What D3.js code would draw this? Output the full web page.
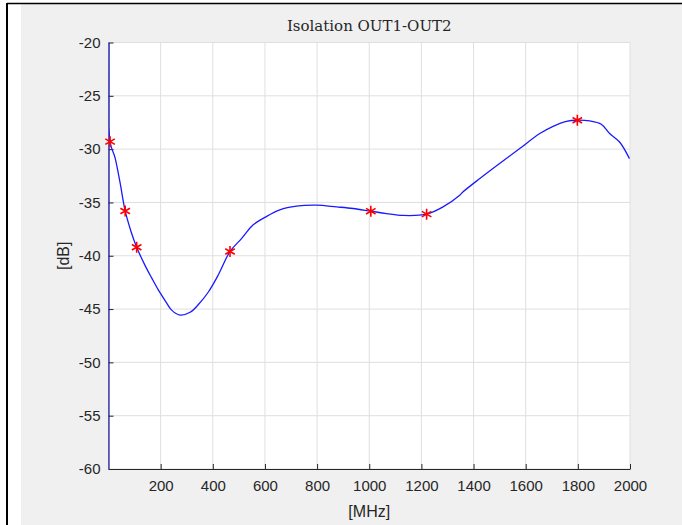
<!DOCTYPE html>
<html>
<head>
<meta charset="utf-8">
<script src="https://cdn.jsdelivr.net/npm/d3@7"></script>
<style>
  body { margin: 0; background: #fff; }
  text { font-family: "Liberation Sans", Arial, sans-serif; fill: #262626; }
</style>
</head>
<body>
<div id="chart"></div>
<script>
// frequency [MHz] and isolation [dB]
var freq = [0, 2, 6, 25, 44, 64, 86, 108, 140, 166, 191, 217, 242, 274, 313, 344, 383, 421, 466, 510,
    555, 600, 657, 721, 798, 875, 938, 1006, 1066, 1130, 1220, 1283, 1347, 1360, 1424, 1500,
    1577, 1654, 1705, 1756, 1798, 1845, 1890, 1922, 1960, 1998];
var isol = [-95, 0, -29.3, -30.8, -33.1, -35.8, -37.7, -39.2, -40.9, -42.1, -43.2, -44.2, -45.1,
    -45.56, -45.3, -44.6, -43.4, -41.8, -39.6, -38.4, -37.1, -36.4, -35.7, -35.35, -35.26,
    -35.42, -35.57, -35.82, -36.04, -36.22, -36.1, -35.42, -34.32, -34.0, -32.76, -31.35,
    -29.95, -28.54, -27.86, -27.39, -27.29, -27.36, -27.67, -28.54, -29.33, -30.89];

// red markers
var markFreq = [6, 64, 108, 466, 1006, 1220, 1798];
var markIsol = [-29.3, -35.8, -39.2, -39.6, -35.82, -36.1, -27.29];

var xTicks = [200, 400, 600, 800, 1000, 1200, 1400, 1600, 1800, 2000];
var yTicks = [-60, -55, -50, -45, -40, -35, -30, -25, -20];

var W = 682, H = 525;
var pl = 108.5, pr = 630, pt = 42.5, pb = 469;

var svg = d3.select("#chart").append("svg")
    .attr("width", W)
    .attr("height", H);

// figure frame
svg.append("rect").attr("x", 21).attr("y", 4).attr("width", W - 21).attr("height", H - 4)
    .attr("fill", "#f0f0f0");
svg.append("line").attr("x1", 7).attr("x2", W).attr("y1", 3.5).attr("y2", 3.5)
    .attr("stroke", "#000").attr("stroke-width", 1.5);
svg.append("line").attr("x1", 7).attr("x2", 7).attr("y1", 3).attr("y2", H)
    .attr("stroke", "#000").attr("stroke-width", 2);

var x = d3.scaleLinear().domain([0, 2000]).range([pl, pr]);
var y = d3.scaleLinear().domain([-60, -20]).range([pb, pt]);

svg.append("rect")
    .attr("x", pl).attr("y", pt)
    .attr("width", pr - pl).attr("height", pb - pt)
    .attr("fill", "#fff");

// grid
svg.append("g").selectAll("line").data(xTicks).enter().append("line")
    .attr("x1", function(d) { return x(d); }).attr("x2", function(d) { return x(d); })
    .attr("y1", pt).attr("y2", pb)
    .attr("stroke", "#dfdfdf");
svg.append("g").selectAll("line").data(yTicks).enter().append("line")
    .attr("x1", pl).attr("x2", pr)
    .attr("y1", function(d) { return y(d); }).attr("y2", function(d) { return y(d); })
    .attr("stroke", "#dfdfdf");

// axes, ticks pointing inward like matlab, plain hyphen for minus
var fmt = function(d) { return String(d); };
var xAxis = svg.append("g")
    .attr("transform", "translate(0," + pb + ")")
    .call(d3.axisBottom(x).tickValues(xTicks).tickFormat(fmt)
        .tickSizeInner(-5).tickSizeOuter(0).tickPadding(11));
var yAxis = svg.append("g")
    .attr("transform", "translate(" + pl + ",0)")
    .call(d3.axisLeft(y).tickValues(yTicks).tickFormat(fmt)
        .tickSizeInner(-5).tickSizeOuter(0).tickPadding(8));

[xAxis, yAxis].forEach(function(a) {
    a.select(".domain").attr("stroke", "#262626");
    a.selectAll(".tick line").attr("stroke", "#262626");
    a.selectAll(".tick text")
        .style("font-family", "Liberation Sans, Arial, sans-serif")
        .style("font-size", "15px")
        .attr("fill", "#262626");
});

// curve
svg.append("clipPath").attr("id", "clip")
    .append("rect").attr("x", pl).attr("y", pt)
    .attr("width", pr - pl).attr("height", pb - pt);

var pts = freq.map(function(f, i) { return [f, isol[i]]; });

svg.append("path")
    .datum(pts)
    .attr("clip-path", "url(#clip)")
    .attr("fill", "none")
    .attr("stroke", "#1a1aff")
    .attr("stroke-width", 1.3)
    .attr("d", d3.line()
        .x(function(d) { return x(d[0]); })
        .y(function(d) { return y(d[1]); })
        .curve(d3.curveCatmullRom.alpha(0.5)));

var sym = d3.symbol().type(d3.symbolAsterisk).size(85);
svg.append("g").selectAll("path").data(markFreq).enter().append("path")
    .attr("transform", function(d, i) { return "translate(" + x(d) + "," + y(markIsol[i]) + ")"; })
    .attr("d", sym)
    .attr("fill", "none")
    .attr("stroke", "#ff0000")
    .attr("stroke-width", 1.6);

// labels
svg.append("text")
    .attr("x", (pl + pr) / 2)
    .attr("y", 31)
    .attr("text-anchor", "middle")
    .style("font-family", "DejaVu Serif, serif")
    .style("font-size", "15px")
    .text("Isolation OUT1-OUT2");

svg.append("text")
    .attr("x", (pl + pr) / 2)
    .attr("y", 517)
    .attr("text-anchor", "middle")
    .style("font-size", "16px")
    .text("[MHz]");

svg.append("text")
    .attr("transform", "translate(69," + ((pt + pb) / 2) + ") rotate(-90)")
    .attr("text-anchor", "middle")
    .style("font-size", "16px")
    .text("[dB]");
</script>
</body>
</html>
